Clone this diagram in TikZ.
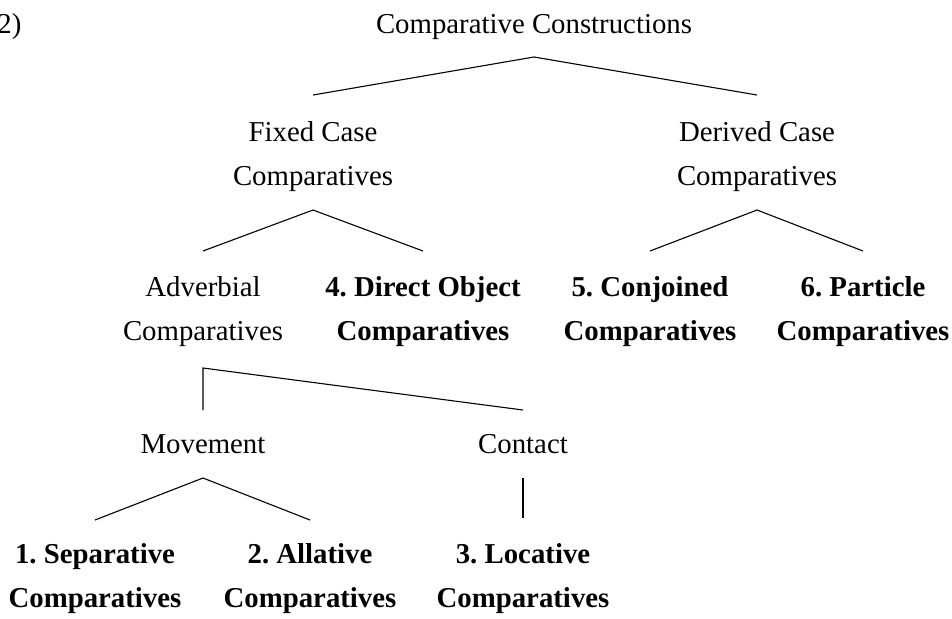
\documentclass[tikz,border=0pt]{standalone}
\usepackage{fontspec}
\setmainfont{Liberation Serif}
\usetikzlibrary{calc}
\frenchspacing
\begin{document}
\begin{tikzpicture}[x=0.5pt,y=-0.5pt,
  lbl/.style={inner sep=0pt, anchor=base, font=\fontsize{14.4}{22}\selectfont},
  blbl/.style={lbl, font=\fontsize{14.4}{22}\selectfont\bfseries},
  branch/.style={draw=black, line width=0.55pt}]
\useasboundingbox (0,0) rectangle (952,618);
% labels
\node[lbl, anchor=base west] (num) at (-3,33) {2)};
\node[lbl] (root) at (534,33) {Comparative Constructions};
\node[lbl] (fixed) at (313,141) {Fixed Case};
\node[lbl] (fixedb) at (313,185) {Comparatives};
\node[lbl] (derived) at (757,141) {Derived Case};
\node[lbl] (derivedb) at (757,185) {Comparatives};
\node[lbl] (adv) at (203,296) {Adverbial};
\node[lbl] (advb) at (203,340) {Comparatives};
\node[blbl] (dobj) at (423,296) {4. Direct Object};
\node[blbl] (dobjb) at (423,340) {Comparatives};
\node[blbl] (conj) at (650,296) {5. Conjoined};
\node[blbl] (conjb) at (650,340) {Comparatives};
\node[blbl] (part) at (863,296) {6. Particle};
\node[blbl] (partb) at (863,340) {Comparatives};
\node[lbl] (move) at (203,453) {Movement};
\node[lbl] (contact) at (523,453) {Contact};
\node[blbl] (sep) at (95,563) {1. Separative};
\node[blbl] (sepb) at (95,607) {Comparatives};
\node[blbl] (all) at (310,563) {2. Allative};
\node[blbl] (allb) at (310,607) {Comparatives};
\node[blbl] (loc) at (523,563) {3. Locative};
\node[blbl] (locb) at (523,607) {Comparatives};
% branches
\draw[branch] ($(fixed.base)+(0,-46)$) -- ($(root.base)+(0,24)$) -- ($(derived.base)+(0,-46)$);
\draw[branch] ($(adv.base)+(0,-45)$) -- ($(fixedb.base)+(0,25)$) -- ($(dobj.base)+(0,-45)$);
\draw[branch] ($(conj.base)+(0,-45)$) -- ($(derivedb.base)+(0,25)$) -- ($(part.base)+(0,-45)$);
\draw[branch] ($(move.base)+(0,-43)$) -- ($(advb.base)+(0,28)$) -- ($(contact.base)+(0,-43)$);
\draw[branch] ($(sep.base)+(0,-43)$) -- ($(move.base)+(0,25)$) -- ($(all.base)+(0,-43)$);
\draw[branch] ($(contact.base)+(0,25)$) -- ($(loc.base)+(0,-45)$);
\end{tikzpicture}
\end{document}
